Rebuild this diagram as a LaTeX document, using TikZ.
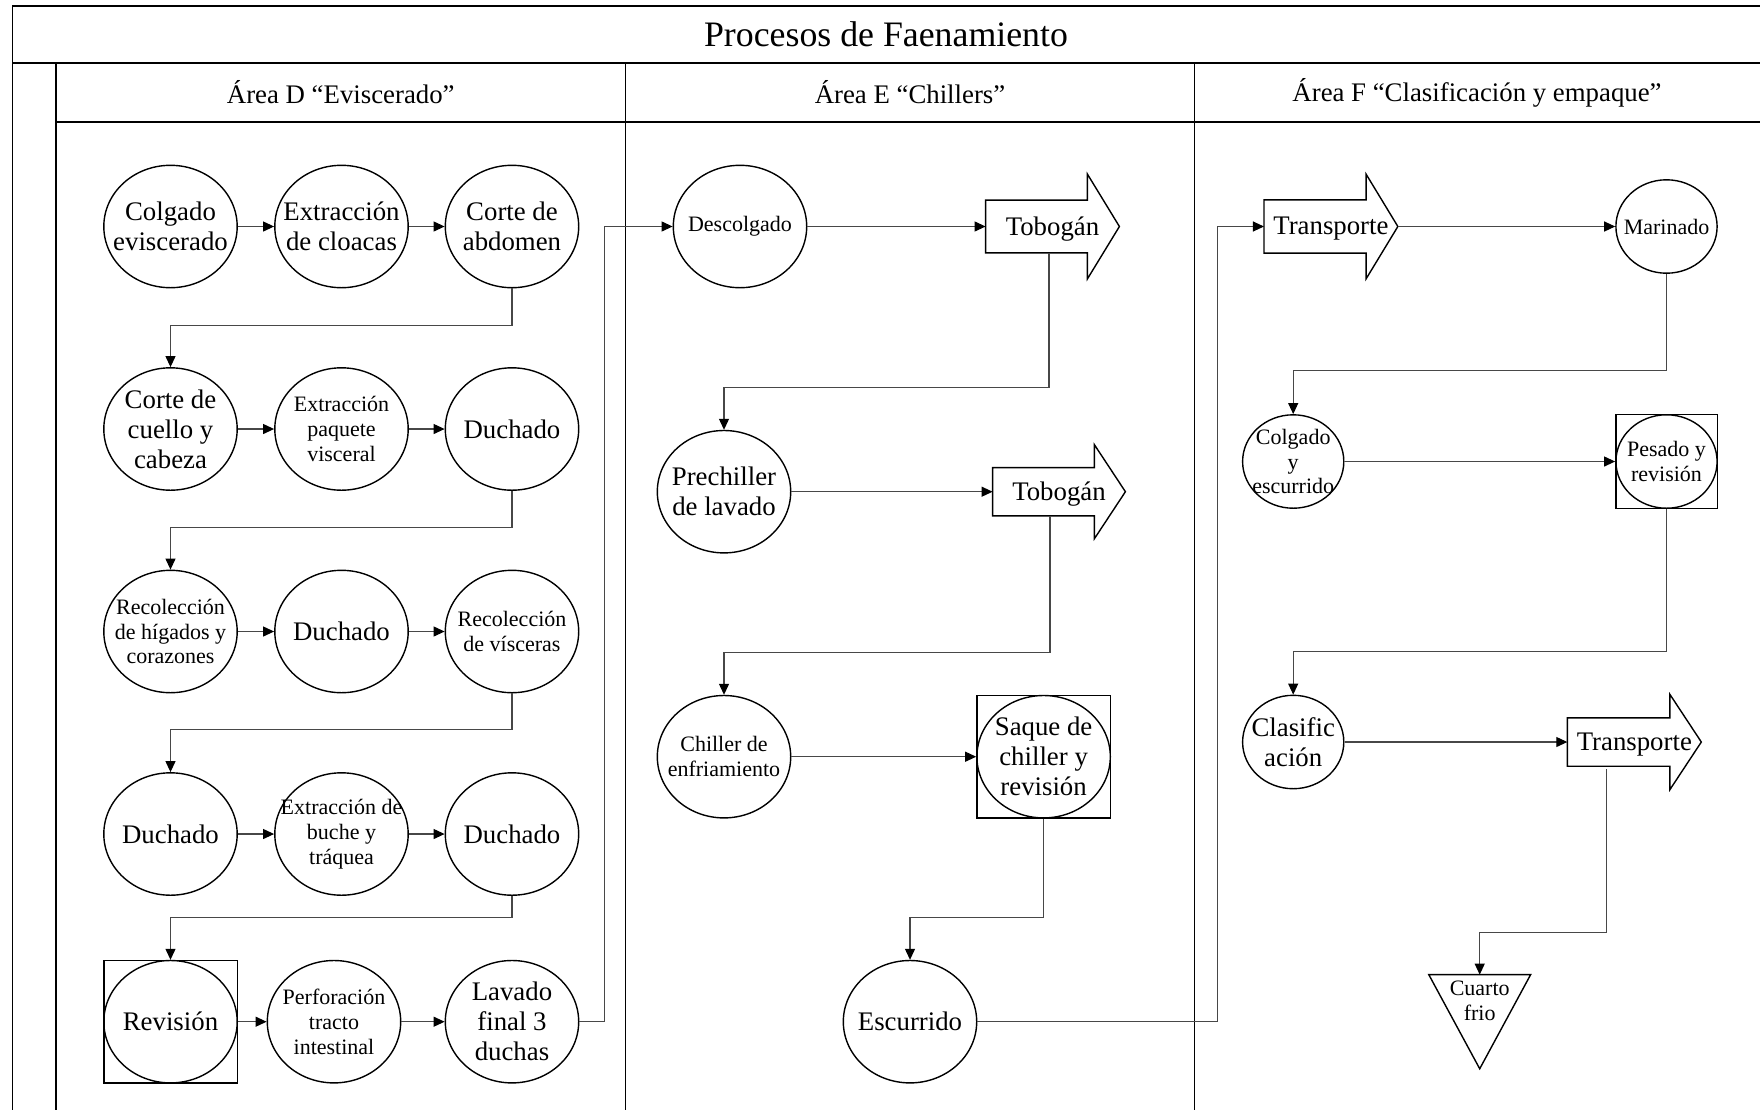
\documentclass[tikz,border=0pt]{standalone}
\usepackage{fontspec}
\setmainfont{Liberation Serif}
\usetikzlibrary{shapes.geometric, arrows.meta, calc}

\tikzset{
  stage/.style={ellipse, draw, line width=0.7pt, inner sep=0pt, minimum width=66.7pt, minimum height=61.2pt},
  stagesm/.style={stage, minimum width=50.6pt, minimum height=46.7pt},
  checkbox/.style={rectangle, draw, line width=0.7pt, inner sep=0pt, minimum width=66.7pt, minimum height=61.2pt},
  checkboxsm/.style={checkbox, minimum width=50.7pt, minimum height=47pt},
  bodybox/.style={rectangle, inner sep=0pt, minimum width=50.7pt},
  outline/.style={draw, line width=0.7pt, line join=miter},
  big/.style={font=\fontsize{13.4}{15}\selectfont, align=center, inner sep=0pt},
  small/.style={font=\fontsize{11}{12.35}\selectfont, align=center, inner sep=0pt},
  lanehead/.style={font=\fontsize{13.4}{15}\selectfont, inner sep=0pt},
  maintitle/.style={font=\fontsize{17.9}{20}\selectfont, inner sep=0pt},
  conn/.style={draw=black!72, line width=0.55pt},
  flow/.style={conn, -{Triangle[length=5.5pt,width=5pt,color=black]}},
  rule/.style={line width=0.9pt},
}

% process step: outline node plus a centred text node
\newcommand\stagenode[5]{%
  \node[#2] (#1) at (#3) {};
  \node[#4] (#1-t) at (#1) {#5};}

% block arrow (conveyor / chute): name, x, y, body width, body half height,
% head half height, head length, text
\newcommand\chute[8]{%
  \node[bodybox, minimum width={#4*0.5pt}, minimum height={#5*1pt}] (#1) at (#2,#3) {};
  \coordinate (#1-tip) at ($(#1.east)+(#7,0)$);
  \draw[outline] (#1.north west) -- (#1.north east) -- ++(0,{#5-#6}) -- (#1-tip)
    -- ($(#1.south east)+(0,{#6-#5})$) -- (#1.south east) -- (#1.south west) -- cycle;
  \node[big] (#1-t) at ($(#1.center)+({#7/2},2.5)$) {#8};}

\begin{document}
\begin{tikzpicture}[x=0.5pt, y=-0.5pt]
\useasboundingbox (0,0) rectangle (1760,1110);

% swimlane frame
\draw[rule] (1760,6) -- (12.5,6) -- (12.5,1110);
\draw[rule] (12.5,63.3) -- (1760,63.3);
\draw[rule] (56,63.3) -- (56,1110);
\draw[rule] (56,121.7) -- (1760,121.7);
\draw[rule] (625.5,63.3) -- (625.5,1110);
\draw[rule] (1194.5,63.3) -- (1194.5,1110);

\node[maintitle] (ttl) at (886,34.6) {Procesos de Faenamiento};
\node[lanehead] (hD) at (340.75,92.5) {Área D “Eviscerado”};
\node[lanehead] (hE) at (910,92.5) {Área E “Chillers”};
\node[lanehead] (hF) at (1477,92.5) {Área F “Clasificación y empaque”};

% ---- Area D
\stagenode{c11}{stage}{170.5,226.5}{big}{Colgado\\eviscerado}
\stagenode{c12}{stage}{341.5,226.5}{big}{Extracción\\de cloacas}
\stagenode{c13}{stage}{512,226.5}{big}{Corte de\\abdomen}
\stagenode{c21}{stage}{170.5,429}{big}{Corte de\\cuello y\\cabeza}
\stagenode{c22}{stage}{341.5,429}{small}{Extracción\\paquete\\visceral}
\stagenode{c23}{stage}{512,429}{big}{Duchado}
\stagenode{c31}{stage}{170.5,631.5}{small}{Recolección\\de hígados y\\corazones}
\stagenode{c32}{stage}{341.5,631.5}{big}{Duchado}
\stagenode{c33}{stage}{512,631.5}{small}{Recolección\\de vísceras}
\stagenode{c41}{stage}{170.5,834}{big}{Duchado}
\stagenode{c42}{stage}{341.5,834}{small}{Extracción de\\buche y\\tráquea}
\stagenode{c43}{stage}{512,834}{big}{Duchado}
\node[checkbox] (c51) at (170.5,1021.7) {};
\stagenode{c51c}{stage}{c51}{big}{Revisión}
\stagenode{c52}{stage}{334,1021.7}{small}{Perforación\\tracto\\intestinal}
\stagenode{c53}{stage}{512,1021.7}{big}{Lavado\\final 3\\duchas}

\draw[flow] (c11.east) -- (c12.west);
\draw[flow] (c12.east) -- (c13.west);
\draw[flow] (c13.south) -- ++(0,36.7) -| (c21.north);
\draw[flow] (c21.east) -- (c22.west);
\draw[flow] (c22.east) -- (c23.west);
\draw[flow] (c23.south) -- ++(0,36.5) -| (c31.north);
\draw[flow] (c31.east) -- (c32.west);
\draw[flow] (c32.east) -- (c33.west);
\draw[flow] (c33.south) -- ++(0,36.3) -| (c41.north);
\draw[flow] (c41.east) -- (c42.west);
\draw[flow] (c42.east) -- (c43.west);
\draw[flow] (c43.south) -- ++(0,21.5) -| (c51.north);
\draw[flow] (c51.east) -- (c52.west);
\draw[flow] (c52.east) -- (c53.west);

% ---- Area E
\stagenode{desc}{stage}{740,226.5}{small}{Descolgado}
\chute{tob1}{1036.5}{226.5}{101}{26}{52}{32}{Tobogán}
\stagenode{pre}{stage}{724,491.7}{big}{Prechiller\\de lavado}
\chute{tob2}{1043.5}{491.7}{101}{23.7}{46.6}{31}{Tobogán}
\stagenode{chill}{stage}{724,756.7}{small}{Chiller de\\enfriamiento}
\node[checkbox] (saq) at (1043.6,756.7) {};
\stagenode{saqc}{stage}{saq}{big}{Saque de\\chiller y\\revisión}
\stagenode{esc}{stage}{910,1021.7}{big}{Escurrido}

\draw[flow] (c53.east) -- ++(24.7,0) |- (desc.west);
\draw[flow] (desc.east) -- (tob1.west);
\draw[flow] ([xshift=6.25pt]tob1.south) -- ++(0,134.8) -| (pre.north);
\draw[flow] (pre.east) -- (tob2.west);
\draw[flow] ([xshift=3.25pt]tob2.south) -- ++(0,136.3) -| (chill.north);
\draw[flow] (chill.east) -- (saq.west);
\draw[flow] (saq.south) -- ++(0,99) -| (esc.north);

% ---- Area F
\chute{tr1}{1315}{226.5}{101.3}{26.2}{52}{31.8}{Transporte}
\stagenode{mar}{stagesm}{1666.5,226.5}{small}{Marinado}
\stagenode{col}{stagesm}{1293.2,461.5}{small}{Colgado\\y\\escurrido}
\node[checkboxsm] (pes) at (1666.5,461.5) {};
\stagenode{pesc}{stagesm}{pes}{small}{Pesado y\\revisión}
\stagenode{cla}{stagesm}{1293.2,742}{big}{Clasific\\ación}
\chute{tr2}{1618.6}{742}{101.8}{23.8}{47.2}{31.4}{Transporte}
\node[bodybox, minimum width=50.5pt, minimum height=46.65pt] (cf) at (1479.7,1021.7) {};
\draw[outline] (cf.north west) -- (cf.north east) -- (cf.south) -- cycle;
\node[small] (cf-t) at (1479.7,1000.5) {Cuarto\\frio};

\draw[flow] (esc.east) -- ++(240.5,0) |- (tr1.west);
\draw[flow] (tr1-tip) -- (mar.west);
\draw[flow] (mar.south) -- ++(0,97) -| (col.north);
\draw[flow] (col.east) -- (pes.west);
\draw[flow] (pes.south) -- ++(0,142.5) -| (cla.north);
\draw[flow] (cla.east) -- (tr2.west);
\draw[flow] ([xshift=-6pt,yshift=-1.5pt]tr2.south) -- ++(0,163) -| (cf.north);
\end{tikzpicture}
\end{document}
